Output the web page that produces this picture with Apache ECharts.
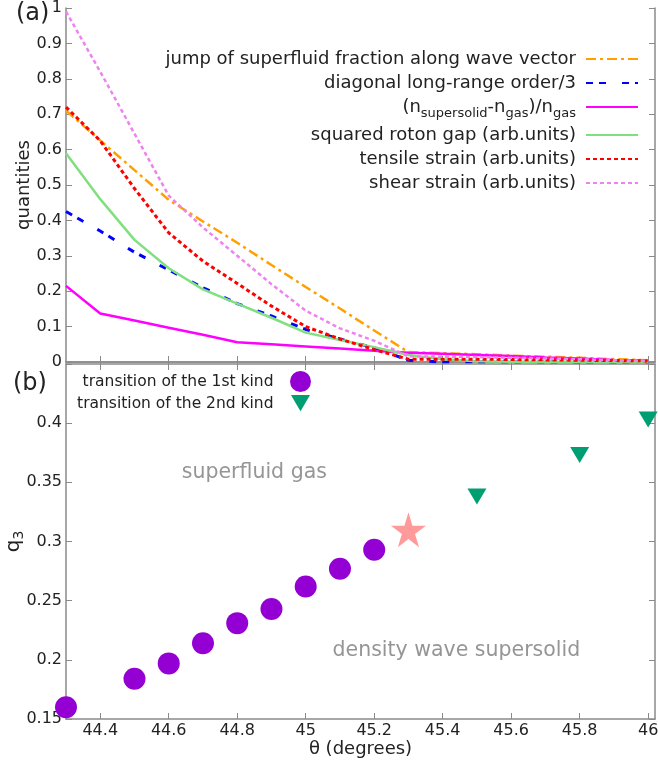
<!DOCTYPE html>
<html>
<head>
<meta charset="utf-8">
<script src="https://cdn.jsdelivr.net/npm/echarts@6/dist/echarts.min.js"></script>
<style>
html, body { margin: 0; padding: 0; background: #fff; }
#chart { width: 658px; height: 765px; }
</style>
</head>
<body>
<div id="chart"></div>
<script>
// panel (a): quantities vs theta
var thetaTop = [44.3, 44.4, 44.5, 44.6, 44.7, 44.8, 44.9, 45.0, 45.1, 45.2, 45.3, 45.4, 45.5, 45.6, 45.7, 45.8, 45.9, 46.0];
var jumpFraction = [0.71, 0.626, 0.542, 0.458, 0.397, 0.337, 0.274, 0.212, 0.151, 0.089, 0.028, 0.025, 0.022, 0.018, 0.015, 0.012, 0.008, 0.005];
var diagonalLRO = [0.425, 0.37, 0.31, 0.26, 0.21, 0.165, 0.13, 0.092, 0.065, 0.04, 0.005, 0, 0, 0, 0, 0, 0, 0];
var densityRatio = [0.215, 0.137, 0.117, 0.097, 0.077, 0.056, 0.05, 0.044, 0.038, 0.032, 0.026, 0.023, 0.02, 0.017, 0.013, 0.01, 0.006, 0.003];
var rotonGap = [0.59, 0.46, 0.345, 0.265, 0.205, 0.165, 0.125, 0.083, 0.062, 0.042, 0.02, 0.008, 0.002, 0.001, 0.001, 0.001, 0.001, 0.001];
var tensileStrain = [0.72, 0.625, 0.49, 0.365, 0.285, 0.222, 0.158, 0.1, 0.065, 0.035, 0.008, 0.008, 0.008, 0.007, 0.006, 0.005, 0.004, 0.003];
var shearStrain = [0.99, 0.82, 0.645, 0.47, 0.38, 0.3, 0.22, 0.145, 0.095, 0.06, 0.016, 0.015, 0.014, 0.012, 0.01, 0.008, 0.005, 0.003];

// panel (b): phase boundary q3 vs theta
var theta1st = [44.3, 44.5, 44.6, 44.7, 44.8, 44.9, 45.0, 45.1, 45.2];
var q3First = [0.160, 0.184, 0.197, 0.214, 0.231, 0.243, 0.262, 0.277, 0.293];
var theta2nd = [45.5, 45.8, 46.0];
var q3Second = [0.338, 0.373, 0.403];
var thetaStar = [45.3];
var q3Star = [0.310];

var xTicks = [44.4, 44.6, 44.8, 45, 45.2, 45.4, 45.6, 45.8, 46];
var q3Labels = [0.15, 0.2, 0.25, 0.3, 0.35, 0.4];

var names = [
    'jump of superfluid fraction along wave vector',
    'diagonal long-range order/3',
    '(nsupersolid-ngas)/ngas',
    'squared roton gap (arb.units)',
    'tensile strain (arb.units)',
    'shear strain (arb.units)'
];
var kind1 = 'transition of the 1st kind';
var kind2 = 'transition of the 2nd kind';

function pairs(xs, ys) {
    return xs.map(function (x, i) { return [x, ys[i]]; });
}

var FONT = 'DejaVu Sans';
var axisColor = '#8a8a8a';
var textColor = '#222';
var triDown = 'path://M0,0L20,0L10,17Z';
// same triangle with empty margins so the legend icon is not blown up
var triDownIcon = 'path://M-1,-2M21,20M0,0L20,0L10,17Z';
var star = 'path://M50,0L61,35L98,35L68,57L79,91L50,70L21,91L32,57L2,35L39,35Z';

function lineSeries(name, ys, color, type, width) {
    return {
        name: name,
        type: 'line',
        xAxisIndex: 0,
        yAxisIndex: 0,
        data: pairs(thetaTop, ys),
        symbol: 'none',
        lineStyle: { color: color, type: type, width: width },
        itemStyle: { color: color },
        z: 3
    };
}

function xAxisOf(grid, pos, showLabel) {
    return {
        type: 'value', gridIndex: grid, position: pos,
        min: 44.3, max: 46.02,
        axisLine: { lineStyle: { color: axisColor, width: 1.5 } },
        axisTick: { show: true, inside: true, length: 6, customValues: xTicks, lineStyle: { color: axisColor } },
        axisLabel: { show: showLabel, customValues: xTicks, margin: 4, color: textColor, fontSize: 16, fontFamily: FONT },
        splitLine: { show: false }
    };
}

var myChart = echarts.init(document.getElementById('chart'));
var option = {
    backgroundColor: '#fff',
    animation: false,
    textStyle: { fontFamily: FONT },
    grid: [
        { left: 66, right: 3, top: 8, height: 354, outerBoundsMode: 'none', containLabel: false },
        { left: 66, right: 3, top: 364, height: 355, outerBoundsMode: 'none', containLabel: false }
    ],
    xAxis: [
        xAxisOf(0, 'bottom', false),
        xAxisOf(0, 'top', false),
        Object.assign(xAxisOf(1, 'bottom', true), {
            name: 'θ (degrees)', nameLocation: 'middle', nameGap: 21, nameMoveOverlap: false,
            nameTextStyle: { color: textColor, fontSize: 18, fontFamily: FONT }
        }),
        xAxisOf(1, 'top', false)
    ],
    yAxis: [
        {
            type: 'value', gridIndex: 0, min: 0, max: 1, interval: 0.1,
            name: 'quantities', nameLocation: 'middle', nameGap: 33, nameMoveOverlap: false,
            nameTextStyle: { color: textColor, fontSize: 18, fontFamily: FONT },
            axisLine: { show: true, lineStyle: { color: axisColor, width: 1.5 } },
            axisTick: { show: true, inside: true, length: 6, lineStyle: { color: axisColor } },
            axisLabel: { margin: 4, color: textColor, fontSize: 16, fontFamily: FONT },
            splitLine: { show: false }
        },
        {
            type: 'value', gridIndex: 0, position: 'right', min: 0, max: 1, interval: 0.1,
            axisLine: { show: true, lineStyle: { color: axisColor, width: 1.5 } },
            axisTick: { show: true, inside: true, length: 6, lineStyle: { color: axisColor } },
            axisLabel: { show: false },
            splitLine: { show: false }
        },
        {
            type: 'value', gridIndex: 1, min: 0.15, max: 0.45, interval: 0.05,
            name: '{q|q}{s|3}', nameLocation: 'middle', nameGap: 40, nameMoveOverlap: false,
            nameTextStyle: {
                color: textColor, fontFamily: FONT,
                rich: {
                    q: { fontSize: 20, color: textColor, fontFamily: FONT, lineHeight: 24, verticalAlign: 'middle' },
                    s: { fontSize: 14, color: textColor, fontFamily: FONT, lineHeight: 24, verticalAlign: 'bottom' }
                }
            },
            axisLine: { show: true, lineStyle: { color: axisColor, width: 1.5 } },
            axisTick: { show: true, inside: true, length: 6, lineStyle: { color: axisColor } },
            axisLabel: { customValues: q3Labels, margin: 4, color: textColor, fontSize: 16, fontFamily: FONT },
            splitLine: { show: false }
        },
        {
            type: 'value', gridIndex: 1, position: 'right', min: 0.15, max: 0.45, interval: 0.05,
            axisLine: { show: true, lineStyle: { color: axisColor, width: 1.5 } },
            axisTick: { show: true, inside: true, length: 6, lineStyle: { color: axisColor } },
            axisLabel: { show: false },
            splitLine: { show: false }
        }
    ],
    legend: [
        {
            data: names,
            orient: 'vertical',
            align: 'right',
            right: 14,
            top: 45,
            itemWidth: 52,
            itemHeight: 12,
            itemGap: 6,
            selectedMode: false,
            itemStyle: { opacity: 0 },
            textStyle: {
                color: textColor, fontSize: 18, fontFamily: FONT, padding: [0, 5, 0, 0],
                rich: {
                    m: { fontSize: 18, color: textColor, fontFamily: FONT, lineHeight: 26, verticalAlign: 'middle' },
                    s: { fontSize: 13, color: textColor, fontFamily: FONT, lineHeight: 26, verticalAlign: 'bottom' }
                }
            },
            formatter: function (name) {
                if (name === names[2]) {
                    return '{m|(n}{s|supersolid}{m|-n}{s|gas}{m|)/n}{s|gas}';
                }
                return name;
            }
        },
        {
            data: [
                { name: kind1, icon: 'circle' },
                { name: kind2, icon: triDownIcon }
            ],
            orient: 'vertical',
            align: 'right',
            right: 342,
            top: 366,
            itemWidth: 22,
            itemHeight: 21,
            itemGap: 1,
            selectedMode: false,
            textStyle: { color: textColor, fontSize: 15.5, fontFamily: FONT, padding: [0, 11, 0, 0] }
        }
    ],
    series: [
        lineSeries(names[0], jumpFraction, '#ffa000', [10, 4, 3, 4], 2.5),
        lineSeries(names[1], diagonalLRO, '#0000ff', [7, 6, 7, 16], 3),
        lineSeries(names[2], densityRatio, '#ff00ff', 'solid', 2.5),
        lineSeries(names[3], rotonGap, '#80e080', 'solid', 2.5),
        lineSeries(names[4], tensileStrain, '#ff0000', [4, 3], 3),
        lineSeries(names[5], shearStrain, '#ee82ee', [4, 3], 2.5),
        {
            name: kind1, type: 'scatter', xAxisIndex: 2, yAxisIndex: 2,
            data: pairs(theta1st, q3First),
            symbol: 'circle', symbolSize: 22,
            itemStyle: { color: '#9400d3', opacity: 1 }
        },
        {
            name: kind2, type: 'scatter', xAxisIndex: 2, yAxisIndex: 2,
            data: pairs(theta2nd, q3Second),
            symbol: triDown, symbolSize: [19, 16],
            itemStyle: { color: '#009e73', opacity: 1 }
        },
        {
            name: 'tricritical', type: 'scatter', xAxisIndex: 2, yAxisIndex: 2,
            data: pairs(thetaStar, q3Star),
            symbol: star, symbolSize: 35,
            itemStyle: { color: '#ff9a9a', opacity: 1 }
        },
        {
            name: 'phases', type: 'scatter', xAxisIndex: 2, yAxisIndex: 2,
            silent: true,
            data: [[44.85, 0.358, 'superfluid gas'], [45.44, 0.208, 'density wave supersolid']],
            symbolSize: 0,
            label: {
                show: true, position: 'inside', color: '#7a7a7a', fontSize: 20.5, fontFamily: FONT,
                formatter: function (p) { return p.data[2]; }
            }
        }
    ],
    graphic: [
        { type: 'text', left: 16, top: 2, style: { text: '(a)', fontSize: 24, fontFamily: FONT, fill: textColor } },
        { type: 'text', left: 13, top: 372, style: { text: '(b)', fontSize: 24, fontFamily: FONT, fill: textColor } }
    ]
};

option && myChart.setOption(option);
</script>
</body>
</html>
